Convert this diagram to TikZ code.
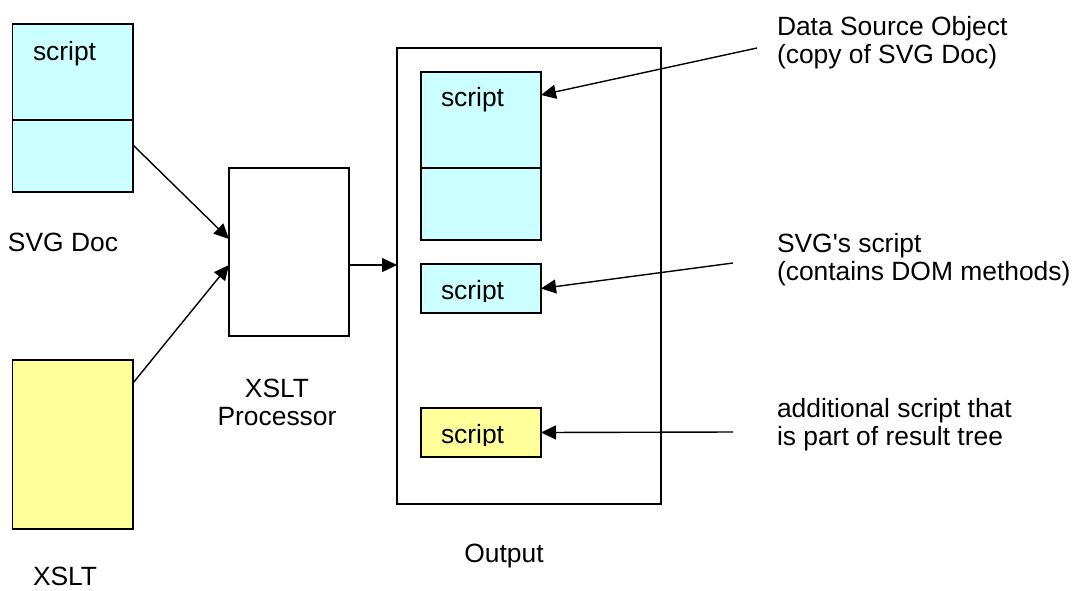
\documentclass[tikz,border=0pt]{standalone}
\usepackage{fontspec}
\setmainfont{Liberation Sans}
\usetikzlibrary{arrows.meta}
\definecolor{docblue}{HTML}{CCFFFF}
\definecolor{xslyellow}{HTML}{FFFF99}
\begin{document}
\begin{tikzpicture}[x=1pt,y=-1pt,
  box/.style={draw, line width=1.5pt, inner sep=0pt, outer sep=0pt, anchor=north west},
  lbl/.style={font=\fontsize{26.4pt}{28pt}\selectfont, inner sep=0pt, outer sep=0pt, anchor=base west},
  conn/.style={line width=1.4pt, -{Triangle[length=15pt,width=14pt]}}]
\useasboundingbox (0,0) rectangle (1079,590);

% source documents
\node[box, fill=docblue, minimum width=120.3pt, minimum height=168pt] (svgdoc) at (12.7,24) {};
\draw[line width=1.5pt] (svgdoc.west |- 0,120) -- (svgdoc.east |- 0,120);
\node[lbl] (svgdocscript) at (33,60) {script};
\node[lbl] (svgdoclabel) at (8,251) {SVG Doc};

\node[box, fill=xslyellow, minimum width=120.3pt, minimum height=169pt] (xsltdoc) at (12.7,360) {};
\node[lbl] (xsltlabel) at (33,585) {XSLT};

% processor (multi-line nodes sit on the baseline of their last line)
\node[box, fill=white, minimum width=120pt, minimum height=168pt] (proc) at (229,168) {};
\node[lbl, anchor=base, align=center] (proclabel) at (277,425) {XSLT\\Processor};

% output tree
\node[box, fill=white, minimum width=264pt, minimum height=456pt] (output) at (397,48) {};
\node[lbl, anchor=base] (outputlabel) at (504,562) {Output};

\node[box, fill=docblue, minimum width=120pt, minimum height=168pt] (dso) at (421,72) {};
\draw[line width=1.5pt] (dso.west |- 0,168) -- (dso.east |- 0,168);
\node[lbl] (dsoscript) at (441,106) {script};

\node[box, fill=docblue, minimum width=120pt, minimum height=49pt] (svgscript) at (421,264) {};
\begin{scope}
  \clip (421,264) rectangle (541,301);
  \node[lbl] (svgscripttext) at (441,299) {script};
\end{scope}

\node[box, fill=xslyellow, minimum width=120pt, minimum height=49pt] (addscript) at (421,408) {};
\begin{scope}
  \clip (421,408) rectangle (541,445);
  \node[lbl] (addscripttext) at (441,443) {script};
\end{scope}

% annotations
\node[lbl, align=left] (note1) at (777,63) {Data Source Object\\(copy of SVG Doc)};
\node[lbl, align=left] (note2) at (777,280) {SVG\textquotesingle s script\\(contains DOM methods)};
\node[lbl, align=left] (note3) at (777,445) {additional script that\\is part of result tree};

\coordinate (c1) at (757,48);
\coordinate (c2) at (733,263);
\coordinate (c3) at (733,432);

% connectors
\draw[conn] ([yshift=-37pt]svgdoc.east) -- ([yshift=13pt]proc.west);
\draw[conn] ([yshift=61.5pt]xsltdoc.east) -- ([yshift=-13pt]proc.west);
\draw[conn] ([yshift=-13pt]proc.east) -- ([yshift=11pt]output.west);
\draw[conn] (c1) -- ([yshift=61pt]dso.east);
\draw[conn] (c2) -- (svgscript.east);
\draw[conn] (c3) -- (addscript.east);
\end{tikzpicture}
\end{document}
